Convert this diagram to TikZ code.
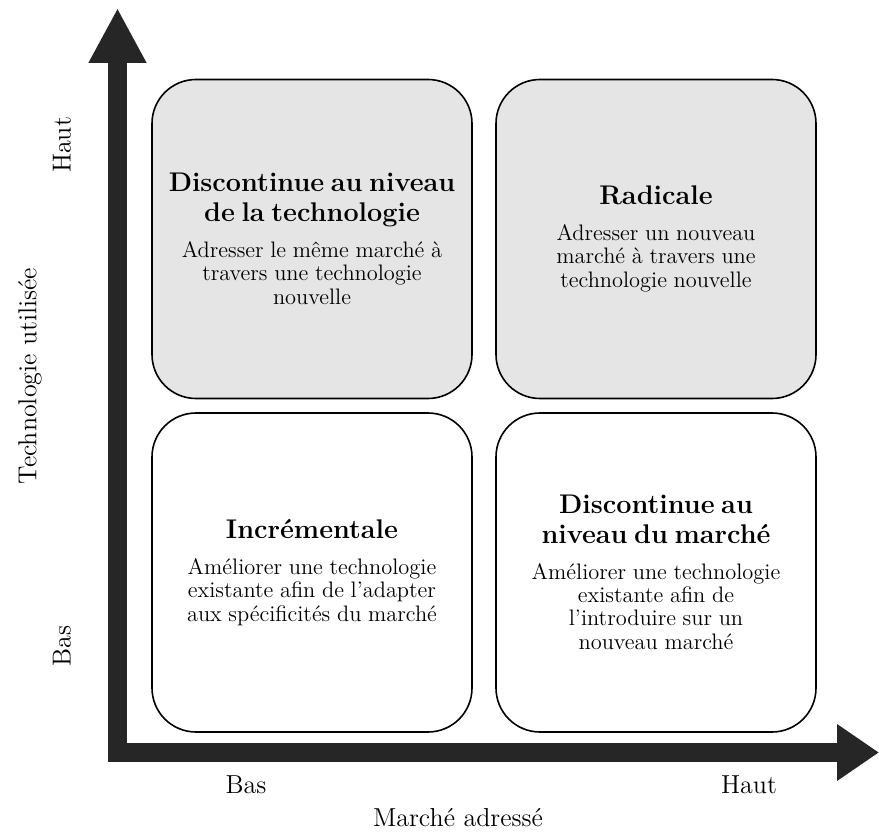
\documentclass[tikz,border=0pt]{standalone}
\usetikzlibrary{arrows.meta}
\newcommand{\titre}{\fontsize{13.5}{13.5}\selectfont\bfseries}
\newcommand{\corps}{\fontsize{11.2}{11.6}\selectfont\mdseries}
\newcommand{\legende}{\fontsize{13}{15}\selectfont}
\tikzstyle{quadrant}=[draw, line width=0.8pt, rounded corners=22pt,
  minimum width=160pt, minimum height=159.5pt, inner sep=0pt,
  text width=150pt, align=center]
\tikzstyle{haut} = [quadrant, fill=black!10]
\tikzstyle{bas} = [quadrant, fill=white]
\tikzstyle{etiquette} = [font=\legende, inner sep=0pt]
\tikzstyle{axe} = [draw, line width=9.5pt, color=black!85, line join=miter,
  {Triangle[length=27.5pt,width=27pt]}-{Triangle[length=21pt,width=27pt]}]

\begin{document}
\begin{tikzpicture}[x=0.5pt,y=0.5pt]
  \useasboundingbox (0,0) rectangle (879,837);

  % Draw diagram elements
  \path (312,598) node (q1) [haut] {\titre Discontinue au niveau\\[1.5pt]
    de la technologie\\[6.5pt] \corps Adresser le même marché à\\
    travers une technologie\\ nouvelle};
  \path (q1.center)+(344,0) node (q2) [haut] {\titre Radicale\\[6.5pt]
    \corps Adresser un nouveau\\ marché à travers une\\ technologie nouvelle};
  \path (q1.center)+(0,-333.5) node (q3) [bas] {\titre Incrémentale\\[6.5pt]
    \corps Améliorer une technologie\\ existante afin de l’adapter\\
    aux spécificités du marché};
  \path (q3.center)+(344,0) node (q4) [bas] {\titre Discontinue au\\[1.5pt]
    niveau du marché\\[6.5pt] \corps Améliorer une technologie\\
    existante afin de\\ l’introduire sur un\\ nouveau marché};

  % Axes
  \coordinate (ybout) at (117.5,829);
  \coordinate (xbout) at (879,84.5);
  \path [axe] (ybout) |- (xbout);

  % Axis labels
  \path (246,52) node (xbas) [etiquette] {Bas};
  \path (749,52) node (xhaut) [etiquette] {Haut};
  \path (458,19) node (xtitre) [etiquette] {Marché adressé};
  \path (62,191) node (ybas) [etiquette, rotate=90] {Bas};
  \path (62,692) node (yhaut) [etiquette, rotate=90] {Haut};
  \path (30,461) node (ytitre) [etiquette, rotate=90] {Technologie utilisée};
\end{tikzpicture}
\end{document}
